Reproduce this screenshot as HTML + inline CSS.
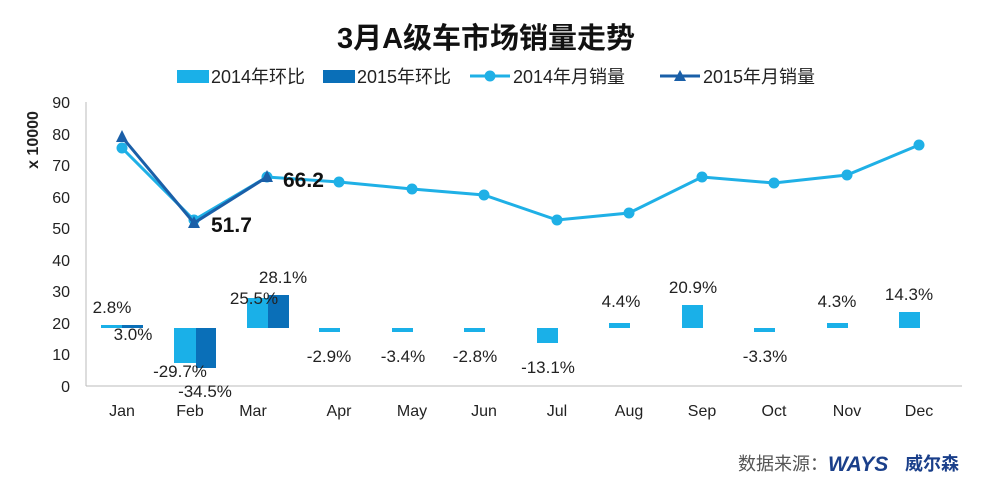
<!DOCTYPE html>
<html><head><meta charset="utf-8"><style>
body{margin:0;background:#fff;width:1000px;height:481px;overflow:hidden}
text{font-family:"Liberation Sans","Noto Sans CJK SC",sans-serif}
</style></head><body>
<svg width="1000" height="481" xmlns="http://www.w3.org/2000/svg">
<text x="486" y="48" text-anchor="middle" font-size="29" font-weight="bold" fill="#111">3月A级车市场销量走势</text>
<g font-size="18" fill="#222">
<rect x="177" y="70" width="32" height="13" fill="#1ab0e8"/><text x="211" y="83">2014年环比</text>
<rect x="323" y="70" width="32" height="13" fill="#0a6fb8"/><text x="357" y="83">2015年环比</text>
<line x1="470" y1="76" x2="510" y2="76" stroke="#1fb0e6" stroke-width="3"/><circle cx="490" cy="76" r="5.5" fill="#1fb0e6"/><text x="513" y="83">2014年月销量</text>
<line x1="660" y1="76" x2="700" y2="76" stroke="#1a5fa8" stroke-width="3"/><polygon points="680,70 686,81 674,81" fill="#1a5fa8"/><text x="703" y="83">2015年月销量</text>
</g>
<g stroke="#bbb" stroke-width="1">
<line x1="86" y1="102" x2="86" y2="386"/><line x1="86" y1="386" x2="962" y2="386"/>
</g>
<g font-size="16" fill="#222" text-anchor="end">
<text x="70" y="108">90</text><text x="70" y="140">80</text><text x="70" y="171">70</text><text x="70" y="203">60</text><text x="70" y="234">50</text><text x="70" y="266">40</text><text x="70" y="297">30</text><text x="70" y="329">20</text><text x="70" y="360">10</text><text x="70" y="392">0</text>
</g>
<text transform="translate(38,140) rotate(-90)" text-anchor="middle" font-size="16" font-weight="bold" fill="#222">x 10000</text>
<g font-size="16" fill="#222" text-anchor="middle">
<text x="122" y="416">Jan</text><text x="190" y="416">Feb</text><text x="253" y="416">Mar</text><text x="339" y="416">Apr</text><text x="412" y="416">May</text><text x="484" y="416">Jun</text><text x="557" y="416">Jul</text><text x="629" y="416">Aug</text><text x="702" y="416">Sep</text><text x="774" y="416">Oct</text><text x="847" y="416">Nov</text><text x="919" y="416">Dec</text>
</g>
<g fill="#1ab0e8">
<rect x="101" y="325" width="21" height="3"/>
<rect x="174" y="328" width="22" height="35"/>
<rect x="247" y="298" width="21" height="30"/>
<rect x="319" y="328" width="21" height="4"/>
<rect x="392" y="328" width="21" height="4"/>
<rect x="464" y="328" width="21" height="4"/>
<rect x="537" y="328" width="21" height="15"/>
<rect x="609" y="323" width="21" height="5"/>
<rect x="682" y="305" width="21" height="23"/>
<rect x="754" y="328" width="21" height="4"/>
<rect x="827" y="323" width="21" height="5"/>
<rect x="899" y="312" width="21" height="16"/>
</g>
<g fill="#0a6fb8">
<rect x="122" y="325" width="21" height="3"/>
<rect x="196" y="328" width="20" height="40"/>
<rect x="268" y="295" width="21" height="33"/>
</g>
<g font-size="17" fill="#222" text-anchor="middle">
<text x="112" y="313">2.8%</text><text x="133" y="340">3.0%</text>
<text x="180" y="377">-29.7%</text><text x="205" y="397">-34.5%</text>
<text x="254" y="304">25.5%</text><text x="283" y="283">28.1%</text>
<text x="329" y="362">-2.9%</text><text x="403" y="362">-3.4%</text><text x="475" y="362">-2.8%</text>
<text x="548" y="373">-13.1%</text><text x="621" y="307">4.4%</text><text x="693" y="293">20.9%</text>
<text x="765" y="362">-3.3%</text><text x="837" y="307">4.3%</text><text x="909" y="300">14.3%</text>
</g>
<polyline fill="none" stroke="#1fb0e6" stroke-width="3" points="122,148 194,220 267,177 339,182 412,189 484,195 557,220 629,213 702,177 774,183 847,175 919,145"/>
<g fill="#1fb0e6">
<circle cx="122" cy="148" r="5.5"/><circle cx="194" cy="220" r="5.5"/><circle cx="267" cy="177" r="5.5"/><circle cx="339" cy="182" r="5.5"/><circle cx="412" cy="189" r="5.5"/><circle cx="484" cy="195" r="5.5"/><circle cx="557" cy="220" r="5.5"/><circle cx="629" cy="213" r="5.5"/><circle cx="702" cy="177" r="5.5"/><circle cx="774" cy="183" r="5.5"/><circle cx="847" cy="175" r="5.5"/><circle cx="919" cy="145" r="5.5"/>
</g>
<polyline fill="none" stroke="#1a5fa8" stroke-width="3" points="122,137 194,223 267,177"/>
<g fill="#1a5fa8">
<polygon points="122,130 128,142 116,142"/><polygon points="194,216 200,228 188,228"/><polygon points="267,170 273,182 261,182"/>
</g>
<g font-size="21" font-weight="bold" fill="#111">
<text x="211" y="232">51.7</text><text x="283" y="187">66.2</text>
</g>
<text x="738" y="470" font-size="18" fill="#555">数据来源：</text>
<text x="828" y="471" font-size="21" font-weight="bold" font-style="italic" fill="#1a3f8a">WAYS</text>
<text x="905" y="470" font-size="18" font-weight="bold" fill="#1a3f8a">威尔森</text>
</svg>
</body></html>
